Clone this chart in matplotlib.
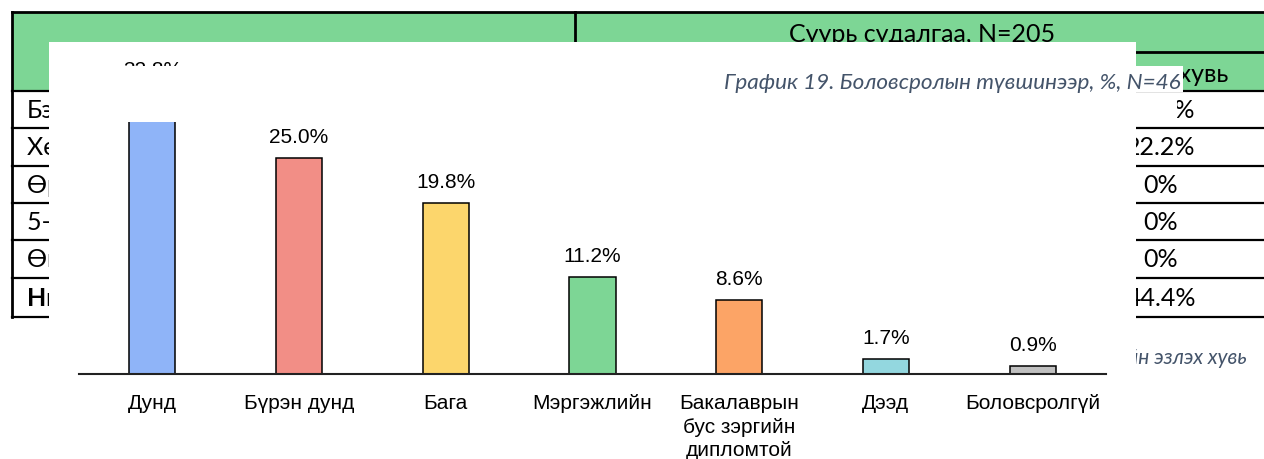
import matplotlib.pyplot as plt
from matplotlib.patches import Rectangle

# chart data
categories = ['Дунд', 'Бүрэн дунд', 'Бага', 'Мэргэжлийн',
              'Бакалаврын\nбус зэргийн\nдипломтой', 'Дээд', 'Боловсролгүй']
shares = [32.8, 25.0, 19.8, 11.2, 8.6, 1.7, 0.9]
bar_colors = ['#8FB4F8', '#F28E86', '#FCD66C', '#7DD695', '#FCA466', '#93D7DF', '#C0C0C0']
chart_title = 'График 19. Боловсролын түвшинээр, %, N=46'

# background table (mostly hidden behind the chart)
row_labels = ['Бэлэвсэн', 'Хөгжлийн бэрхшээлтэй', 'Өрх толгойлсон',
              '5-аас дээш хүүхэдтэй', 'Өндөр настан', 'Нийт']
row_values = ['22.2%', '22.2%', '0%', '0%', '0%', '44.4%']
header_top = 'Суурь судалгаа, N=205'
header_sub = 'Эзлэх хувь'
table_caption = 'Хүснэгт 5. Зорилтот бүлгийн эзлэх хувь'

W, H = 1264, 460
GREEN = '#7DD695'
SLATE = '#44546A'

fig = plt.figure(figsize=(W / 100, H / 100), dpi=100)

# pixel-space axes for the table and the white panel
bg = fig.add_axes([0, 0, 1, 1], zorder=0)
bg.set_xlim(0, W)
bg.set_ylim(H, 0)
bg.axis('off')

bg.add_patch(Rectangle((12, 13), W - 12, 79, color=GREEN, lw=0, zorder=1))
bg.plot([12, W], [13, 13], color='black', lw=2, zorder=2)
bg.plot([12, 12], [13, 318], color='black', lw=2, zorder=2)
bg.plot([575, 575], [13, 92], color='black', lw=2, zorder=2)
bg.plot([575, W], [53, 53], color='black', lw=2, zorder=2)
row_lines = [92, 129, 167, 204, 241, 279, 318]
for y in row_lines:
    bg.plot([12, W], [y, y], color='black', lw=1.6, zorder=2)

bg.text(922, 35, header_top, fontsize=18, family='Lato', ha='center', va='center', zorder=3)
bg.text(1228, 75, header_sub, fontsize=18, family='Lato', ha='right', va='center', zorder=3)
for i, (lab, val) in enumerate(zip(row_labels, row_values)):
    yc = (row_lines[i] + row_lines[i + 1]) / 2
    bold = 'bold' if i == len(row_labels) - 1 else 'normal'
    bg.text(27, yc, lab, fontsize=18, family='Lato', weight=bold, ha='left', va='center', zorder=3)
    bg.text(1161, yc, val, fontsize=18, family='Lato', ha='center', va='center', zorder=3)
bg.text(1248, 358, table_caption, fontsize=15, family='Lato', style='italic',
        color=SLATE, ha='right', va='center', zorder=3)

# white panel the chart sits on
bg.add_patch(Rectangle((49, 43), 1136 - 49, H - 43, color='white', lw=0, zorder=5))

# bar chart
ax = fig.add_axes([79 / W, (H - 375) / H, 1027 / W, 311 / H], zorder=1)
ax.patch.set_alpha(0)
x = range(len(categories))
ax.bar(x, shares, width=0.314, color=bar_colors, edgecolor='black', linewidth=1.1, zorder=2)
for i, v in enumerate(shares):
    ax.annotate(f'{v:.1f}%', (i, v), xytext=(0, 11.5), textcoords='offset points',
                ha='center', va='baseline', fontsize=15, family='Liberation Sans',
                annotation_clip=False, clip_on=False)
ax.set_xlim(-0.5, len(categories) - 0.5)
ax.set_ylim(0, 36)
ax.set_yticks([])
ax.set_xticks(list(x))
ax.set_xticklabels(categories, fontsize=15, family='Liberation Sans', linespacing=1.3)
ax.tick_params(axis='x', length=0, pad=14)
for s in ['top', 'left', 'right']:
    ax.spines[s].set_visible(False)
ax.spines['bottom'].set_color('#222222')
ax.spines['bottom'].set_linewidth(1.5)

# overlay: white band with the chart title on top
ov = fig.add_axes([0, 0, 1, 1], zorder=2)
ov.set_xlim(0, W)
ov.set_ylim(H, 0)
ov.axis('off')
ov.patch.set_alpha(0)
ov.add_patch(Rectangle((49, 67), 1136 - 49, 56, color='white', lw=0))
ov.add_patch(Rectangle((1136, 67), 47, 26, color='white', lw=0))
ov.add_patch(Rectangle((1136, 94), 41, 31, color='white', lw=0))
ov.text(1181, 83, chart_title, fontsize=16.2, family='Lato', style='italic',
        color=SLATE, ha='right', va='center')

fig.savefig('out.png', dpi=100)
